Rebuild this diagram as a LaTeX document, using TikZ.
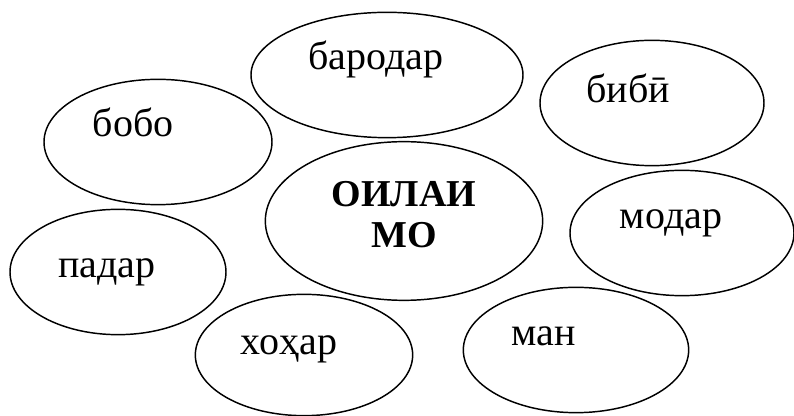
\documentclass[tikz,border=0pt]{standalone}
\usepackage{fontspec}
\setmainfont{Liberation Serif}
\usetikzlibrary{shapes.geometric}

\begin{document}
\begin{tikzpicture}[
x=0.75pt, y=-0.75pt,
oval/.style={ellipse, draw, line width=1.1pt, inner sep=0pt},
word/.style={anchor=base, inner sep=0pt, font=\fontsize{30}{35}\selectfont}
]

    \useasboundingbox (0,0) rectangle (794,416);

    % Ovals
    \node[oval, minimum width=171pt, minimum height=94pt] (bobo)    at (158,142) {};
    \node[oval, minimum width=204pt, minimum height=94pt] (barodar) at (387,75)  {};
    \node[oval, minimum width=168pt, minimum height=94pt] (bibi)    at (652,103) {};
    \node[oval, minimum width=208pt, minimum height=119pt] (oila)   at (404,221) {};
    \node[oval, minimum width=168pt, minimum height=94pt] (modar)   at (682,233) {};
    \node[oval, minimum width=162pt, minimum height=94pt] (padar)   at (118,272) {};
    \node[oval, minimum width=163pt, minimum height=91pt] (khohar)  at (304,355) {};
    \node[oval, minimum width=169pt, minimum height=94pt] (man)     at (576,350) {};

    % Words
    \node[word] (bobo-t)    at (133,137) {бобо};
    \node[word] (barodar-t) at (376,70)  {бародар};
    \node[word] (bibi-t)    at (628,103) {бибӣ};
    \node[word] (modar-t)   at (671,229) {модар};
    \node[word] (padar-t)   at (107,278) {падар};
    \node[word] (khohar-t)  at (289,355) {хоҳар};
    \node[word] (man-t)     at (544,346) {ман};

    % Title
    \node[word, font=\fontsize{28.5}{33}\bfseries] (oila-t1) at (404,207) {ОИЛАИ};
    \node[word, font=\fontsize{28.5}{33}\bfseries] (oila-t2) at (404,248) {МО};

\end{tikzpicture}
\end{document}
